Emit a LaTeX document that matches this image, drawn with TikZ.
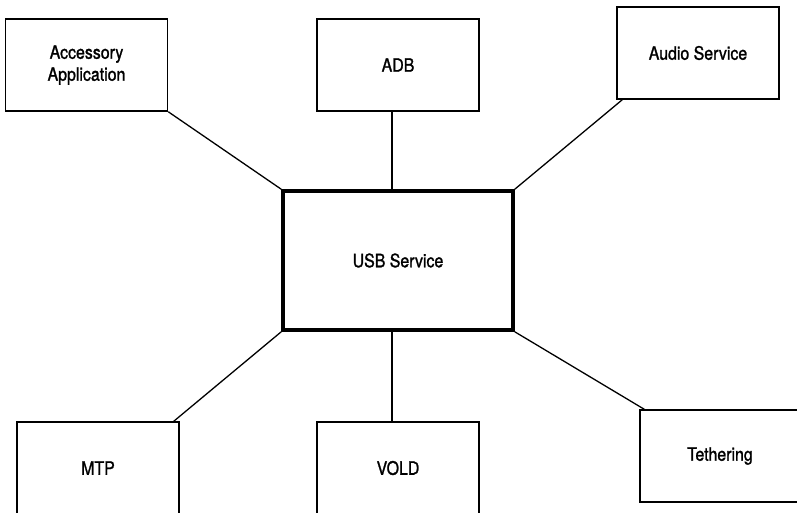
\documentclass[tikz,border=0pt]{standalone}
\usepackage{fontspec}
\setmainfont{TeX Gyre Heros}[FakeStretch=0.86,FakeBold=1.3]
\begin{document}
\begin{tikzpicture}[x=1pt,y=-1pt,
  box/.style={draw=black,line width=1.5pt,minimum width=162pt,minimum height=92pt,inner sep=0pt,align=center,font=\fontsize{18.5}{22}\selectfont},
  mainbox/.style={box,line width=3.6pt,minimum width=230pt,minimum height=139pt},
  link/.style={draw=black,line width=1.3pt}]
\useasboundingbox (0,0) rectangle (797,512);
\node[box] (acc) at (86.5,65) {Accessory\\Application};
\node[box] (adb) at (398,65) {ADB};
\node[box] (audio) at (698,53) {Audio Service};
\node[mainbox] (usb) at (398,260.5) {USB Service};
\node[box] (mtp) at (98,468) {MTP};
\node[box] (vold) at (398,468) {VOLD};
\node[box,minimum width=160pt] (teth) at (720,456) {Tethering};
\draw[link] (acc.south east) -- (usb.north west);
\draw[link] ([xshift=-6pt]adb.south) -- ([xshift=-6pt]usb.north);
\draw[link] ([xshift=6pt]audio.south west) -- (usb.north east);
\draw[link] ([xshift=-6pt]mtp.north east) -- (usb.south west);
\draw[link] ([xshift=-6pt]vold.north) -- ([xshift=-6pt]usb.south);
\draw[link] ([xshift=5pt]teth.north west) -- (usb.south east);
\end{tikzpicture}
\end{document}
